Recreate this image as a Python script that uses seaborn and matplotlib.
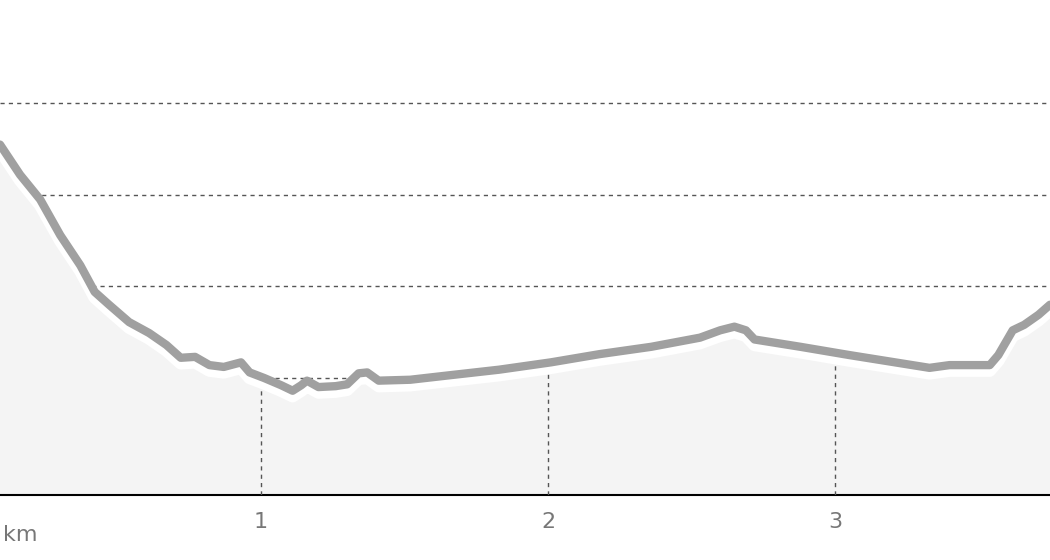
import numpy as np
import matplotlib
matplotlib.use('Agg')
import matplotlib.pyplot as plt
import seaborn as sns

sns.set_style('white')

# elevation profile (km, relative height units)
dist_km = np.array([0.09, 0.16, 0.23, 0.30, 0.37, 0.42, 0.47, 0.54, 0.61, 0.67,
                    0.72, 0.77, 0.82, 0.87, 0.93, 0.96, 1.01, 1.07, 1.11, 1.14,
                    1.16, 1.20, 1.26, 1.30, 1.34, 1.37, 1.41, 1.52, 1.66, 1.83,
                    2.01, 2.18, 2.36, 2.53, 2.60, 2.65, 2.69, 2.72, 2.88, 3.05,
                    3.23, 3.33, 3.40, 3.54, 3.57, 3.62, 3.66, 3.71, 3.75])
height = np.array([3.55, 3.22, 2.95, 2.56, 2.23, 1.94, 1.80, 1.61, 1.49, 1.36,
                   1.22, 1.23, 1.14, 1.12, 1.17, 1.06, 1.00, 0.92, 0.86, 0.92,
                   0.97, 0.90, 0.91, 0.93, 1.05, 1.06, 0.97, 0.98, 1.03, 1.09,
                   1.17, 1.26, 1.34, 1.44, 1.52, 1.56, 1.52, 1.42, 1.34, 1.25,
                   1.16, 1.11, 1.14, 1.14, 1.25, 1.52, 1.58, 1.69, 1.80])
km_ticks = [1, 2, 3]
km_labels = ['1', '2', '3']

fig = plt.figure(figsize=(10.5, 5.6), dpi=100)
ax = fig.add_axes([0, 0.116, 1, 0.884])
ybot, ytop = -0.28, 5.13
ax.set_xlim(dist_km[0], dist_km[-1])
ax.set_ylim(ybot, ytop)

for gy in range(5):
    ax.axhline(gy, color='#555555', lw=1, ls=(0, (3, 3)), zorder=1)

ax.fill_between(dist_km, height, ybot, color='#f4f4f4', zorder=2)
for t in km_ticks:
    ax.vlines(t, ybot, np.interp(t, dist_km, height) - 0.1, color='#555555',
              lw=1, ls=(0, (3, 3)), zorder=3)

sns.lineplot(x=dist_km, y=height - 0.06, color='white', lw=9, ax=ax, zorder=4)
sns.lineplot(x=dist_km, y=height, color='#a0a0a0', lw=6, ax=ax, zorder=5,
             solid_capstyle='round')

for s in ['top', 'right', 'left']:
    ax.spines[s].set_visible(False)
ax.spines['bottom'].set_color('black')
ax.spines['bottom'].set_linewidth(1.5)
ax.set_yticks([])
ax.set_xticks(km_ticks)
ax.set_xticklabels(km_labels)
ax.tick_params(axis='x', length=0, pad=12, labelsize=16, labelcolor='#777777')
fig.text(0.003, 0.045, 'km', fontsize=16, color='#777777', va='center')

fig.savefig('out.png', dpi=100)
